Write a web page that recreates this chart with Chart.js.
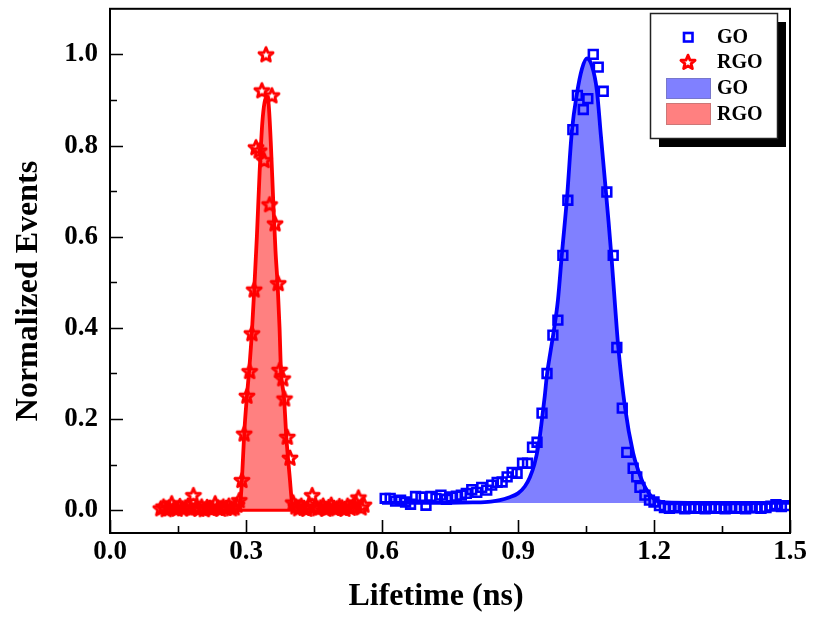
<!DOCTYPE html>
<html><head><meta charset="utf-8">
<script src="https://cdn.jsdelivr.net/npm/chart.js@4.4.0/dist/chart.umd.min.js"></script>
<style>html,body{margin:0;padding:0;background:#fff}#wrap{width:813px;height:621px}</style>
</head><body><div id="wrap"><canvas id="c" width="813" height="621"></canvas></div>
<script>
// ---------- data ----------
const goX = [0.607,0.618,0.630,0.641,0.652,0.663,0.674,0.686,0.697,0.708,0.719,0.730,0.742,0.753,0.764,0.775,0.786,0.798,0.809,0.820,0.831,0.842,0.854,0.865,0.876,0.887,0.898,0.910,0.921,0.932,0.942,0.953,0.964,0.977,0.988,0.999,1.010,1.021,1.031,1.044,1.054,1.066,1.077,1.088,1.096,1.110,1.118,1.130,1.140,1.154,1.162,1.169,1.180,1.190,1.200,1.212,
  1.223,1.234,1.245,1.257,1.268,1.279,1.290,1.301,1.313,1.324,1.335,1.346,1.357,1.369,1.380,1.391,1.402,1.413,1.425,1.436,1.447,1.458,1.469,1.481,1.492];
const goY = [0.026,0.026,0.020,0.022,0.018,0.013,0.030,0.029,0.011,0.030,0.026,0.033,0.024,0.029,0.031,0.033,0.037,0.045,0.039,0.050,0.044,0.055,0.061,0.062,0.073,0.083,0.081,0.103,0.103,0.138,0.149,0.213,0.300,0.384,0.417,0.559,0.680,0.835,0.910,0.879,0.903,1.000,0.972,0.919,0.698,0.559,0.357,0.224,0.127,0.092,0.073,0.050,0.033,0.022,0.018,0.010,
  0.006,0.004,0.007,0.005,0.003,0.006,0.004,0.005,0.003,0.006,0.004,0.005,0.003,0.006,0.004,0.005,0.003,0.006,0.005,0.004,0.006,0.009,0.012,0.008,0.010];

const rgoX = [0.112,0.118,0.124,0.130,0.136,0.142,0.148,0.154,0.160,0.166,0.172,0.178,0.184,0.190,0.196,0.202,0.208,0.214,0.220,0.226,0.232,0.238,0.244,0.250,0.256,0.262,0.268,0.274,0.280,
  0.285,0.291,0.296,0.302,0.308,0.313,0.318,0.322,0.329,0.335,0.340,0.344,0.352,0.357,0.364,0.371,0.374,0.381,0.385,0.391,0.397,0.404,
  0.410,0.416,0.422,0.428,0.434,0.440,0.446,0.452,0.458,0.464,0.470,0.476,0.482,0.488,0.494,0.500,0.506,0.512,0.518,0.524,0.530,0.536,0.542,0.548,0.554,0.560];
const rgoY = [0.004,0.008,0.002,0.006,0.015,0.005,0.003,0.009,0.004,0.006,0.010,0.004,0.033,0.006,0.003,0.008,0.002,0.007,0.005,0.004,0.015,0.006,0.003,0.008,0.005,0.010,0.004,0.006,0.012,
  0.022,0.066,0.168,0.251,0.305,0.388,0.484,0.796,0.789,0.921,0.768,1.000,0.671,0.910,0.629,0.498,0.308,0.289,0.245,0.161,0.115,0.017,
  0.008,0.004,0.010,0.005,0.003,0.012,0.033,0.008,0.004,0.006,0.010,0.003,0.007,0.012,0.005,0.004,0.009,0.006,0.003,0.010,0.005,0.008,0.017,0.028,0.006,0.012];

const goFitX = [0.600,0.750,0.800,0.840,0.860,0.880,0.900,0.915,0.926,0.936,0.946,0.953,0.959,0.964,0.972,0.980,0.988,0.997,1.008,1.019,1.030,1.041,1.052,1.063,1.074,1.083,1.092,1.100,1.107,1.114,1.121,1.136,1.154,1.166,1.176,1.188,1.198,1.210,1.225,1.300,1.500];
const goFitY = [0.016,0.016,0.017,0.019,0.022,0.028,0.037,0.052,0.072,0.100,0.147,0.200,0.250,0.298,0.350,0.400,0.460,0.564,0.684,0.833,0.914,0.968,0.991,0.975,0.921,0.820,0.720,0.630,0.545,0.450,0.360,0.226,0.125,0.085,0.059,0.038,0.026,0.020,0.017,0.016,0.016];

const rgoFitX = [0.284,0.288,0.291,0.296,0.302,0.307,0.313,0.318,0.324,0.330,0.336,0.341,0.346,0.350,0.355,0.360,0.365,0.370,0.374,0.377,0.384,0.389,0.397,0.401,0.405];
const rgoFitY = [0.000,0.020,0.066,0.167,0.250,0.307,0.390,0.482,0.600,0.740,0.850,0.895,0.906,0.890,0.800,0.680,0.570,0.490,0.400,0.310,0.245,0.160,0.066,0.020,0.000];

const goBase = 0.016;
const rgoBase = 0.0;
const rgoBaseX = [0.284, 0.405];

const xMajor = [0, 0.3, 0.6, 0.9, 1.2, 1.5];
const xMinor = [0.15, 0.45, 0.75, 1.05, 1.35];
const yMajor = [0, 0.2, 0.4, 0.6, 0.8, 1.0];
const yMinor = [0.1, 0.3, 0.5, 0.7, 0.9];

const seriesNames = ['GO', 'RGO'];
const xTitle = 'Lifetime (ns)';
const yTitle = 'Normalized Events';

// ---------- styles ----------
const FONT = "'Liberation Serif', 'Times New Roman', serif";
const BLUE = '#0000ff', RED = '#ff0000';
const BLUE_FILL = '#8080ff', RED_FILL = '#ff8080';

function makeStar(R, r, lw, color) {
  const s = Math.ceil(2 * R + lw + 4);
  const c = document.createElement('canvas');
  c.width = s; c.height = s;
  const g = c.getContext('2d');
  g.strokeStyle = color; g.lineWidth = lw; g.lineJoin = 'round';
  g.beginPath();
  for (let i = 0; i < 10; i++) {
    const a = -Math.PI / 2 + i * Math.PI / 5;
    const rad = (i % 2) ? r : R;
    g.lineTo(s / 2 + rad * Math.cos(a), s / 2 + 0.6 + rad * Math.sin(a));
  }
  g.closePath(); g.stroke();
  return c;
}
const starImg = makeStar(7.4, 3.3, 2.9, RED);

const zip = (xs, ys) => xs.map((x, i) => ({x, y: ys[i]}));

const framePlugin = {
  id: 'frame',
  afterDraw(chart) {
    const {ctx, chartArea: a, scales: {x, y}} = chart;
    ctx.save();
    ctx.strokeStyle = '#000';
    ctx.lineWidth = 2;
    ctx.strokeRect(a.left, a.top, a.right - a.left, a.bottom - a.top);
    ctx.lineWidth = 1.6;
    ctx.beginPath();
    xMajor.forEach(v => { const p = Math.round(x.getPixelForValue(v)) + 0.5; ctx.moveTo(p, a.bottom); ctx.lineTo(p, a.bottom - 13); });
    xMinor.forEach(v => { const p = Math.round(x.getPixelForValue(v)) + 0.5; ctx.moveTo(p, a.bottom); ctx.lineTo(p, a.bottom - 7); });
    yMajor.forEach(v => { const p = Math.round(y.getPixelForValue(v)) + 0.5; ctx.moveTo(a.left, p); ctx.lineTo(a.left + 13, p); });
    yMinor.forEach(v => { const p = Math.round(y.getPixelForValue(v)) + 0.5; ctx.moveTo(a.left, p); ctx.lineTo(a.left + 7, p); });
    ctx.stroke();

    // axis titles
    ctx.fillStyle = '#000';
    ctx.font = "bold 32px " + FONT;
    ctx.textAlign = 'center'; ctx.textBaseline = 'middle';
    ctx.fillText(xTitle, 436, 597);
    ctx.save();
    ctx.translate(29, 291);
    ctx.rotate(-Math.PI / 2);
    ctx.fillText(yTitle, 0, 0);
    ctx.restore();

    // legend box with shadow
    const L = 650, T = 13, W = 127, H = 125;
    ctx.fillStyle = '#000';
    ctx.fillRect(L + 9, T + 9, W, H);
    ctx.fillStyle = '#fff';
    ctx.fillRect(L, T, W, H);
    ctx.strokeStyle = '#222'; ctx.lineWidth = 1.5;
    ctx.strokeRect(L + 0.5, T + 0.5, W, H);

    ctx.font = "bold 20px " + FONT;
    ctx.textAlign = 'left'; ctx.textBaseline = 'middle';
    ctx.fillStyle = '#000';
    ctx.strokeStyle = BLUE; ctx.lineWidth = 2.6;
    ctx.strokeRect(684, 33, 8.5, 8.5);
    ctx.fillText(seriesNames[0], 717, 38);
    ctx.drawImage(starImg, 688 - starImg.width / 2, 62 - starImg.height / 2);
    ctx.fillText(seriesNames[1], 717, 63);
    ctx.fillStyle = BLUE_FILL; ctx.fillRect(666, 78, 45, 21);
    ctx.strokeStyle = '#7777cc'; ctx.lineWidth = 1; ctx.strokeRect(666.5, 78.5, 44, 20);
    ctx.fillStyle = RED_FILL; ctx.fillRect(666, 103, 45, 22);
    ctx.strokeStyle = '#cc7777'; ctx.strokeRect(666.5, 103.5, 44, 21);
    ctx.fillStyle = '#000';
    ctx.fillText(seriesNames[0], 717, 89);
    ctx.fillText(seriesNames[1], 717, 115);
    ctx.restore();
  }
};

new Chart(document.getElementById('c'), {
  type: 'scatter',
  data: {
    datasets: [
      { label: seriesNames[0] + ' data', data: zip(goX, goY), order: 0,
        pointStyle: 'rect', pointRadius: 6.2, borderColor: BLUE, backgroundColor: 'rgba(0,0,0,0)', pointBorderWidth: 2.6, showLine: false },
      { label: seriesNames[1] + ' data', data: zip(rgoX, rgoY), order: 0,
        pointStyle: starImg, pointRadius: 7, borderColor: RED, backgroundColor: RED, showLine: false },
      { label: seriesNames[0] + ' fit', data: zip(goFitX, goFitY), order: 2, type: 'line',
        showLine: true, pointRadius: 0, borderColor: BLUE, borderWidth: 3.8, cubicInterpolationMode: 'monotone',
        fill: {value: goBase}, backgroundColor: BLUE_FILL },
      { label: seriesNames[1] + ' fit', data: zip(rgoFitX, rgoFitY), order: 2, type: 'line',
        showLine: true, pointRadius: 0, borderColor: RED, borderWidth: 3.8, cubicInterpolationMode: 'monotone',
        fill: {value: rgoBase}, backgroundColor: RED_FILL },
      { label: seriesNames[1] + ' base', data: rgoBaseX.map(x => ({x, y: rgoBase})), order: 1, type: 'line',
        showLine: true, pointRadius: 0, borderColor: RED, borderWidth: 3, fill: false }
    ]
  },
  options: {
    responsive: false, animation: false, devicePixelRatio: 1,
    layout: { padding: { top: 8, right: 23, left: 0, bottom: 0 } },
    plugins: { legend: { display: false }, tooltip: { enabled: false } },
    scales: {
      x: { type: 'linear', min: 0, max: 1.5,
        afterBuildTicks: s => { s.ticks = xMajor.map(v => ({value: v})); },
        afterFit: s => { s.height = 88; s.paddingLeft = 0; s.paddingRight = 0; },
        grid: { display: false, drawTicks: false }, border: { display: false },
        ticks: { padding: 3, color: '#000', font: { family: FONT, size: 27, weight: 'bold' }, callback: v => v.toFixed(1), maxRotation: 0 } },
      y: { type: 'linear', min: -0.05, max: 1.1,
        afterBuildTicks: s => { s.ticks = yMajor.map(v => ({value: v})); },
        afterFit: s => { s.width = 110; s.paddingTop = 0; s.paddingBottom = 0; },
        grid: { display: false, drawTicks: false }, border: { display: false },
        ticks: { padding: 12, color: '#000', font: { family: FONT, size: 27, weight: 'bold' }, callback: v => v.toFixed(1) } }
    }
  },
  plugins: [framePlugin]
});
</script>
</body></html>
